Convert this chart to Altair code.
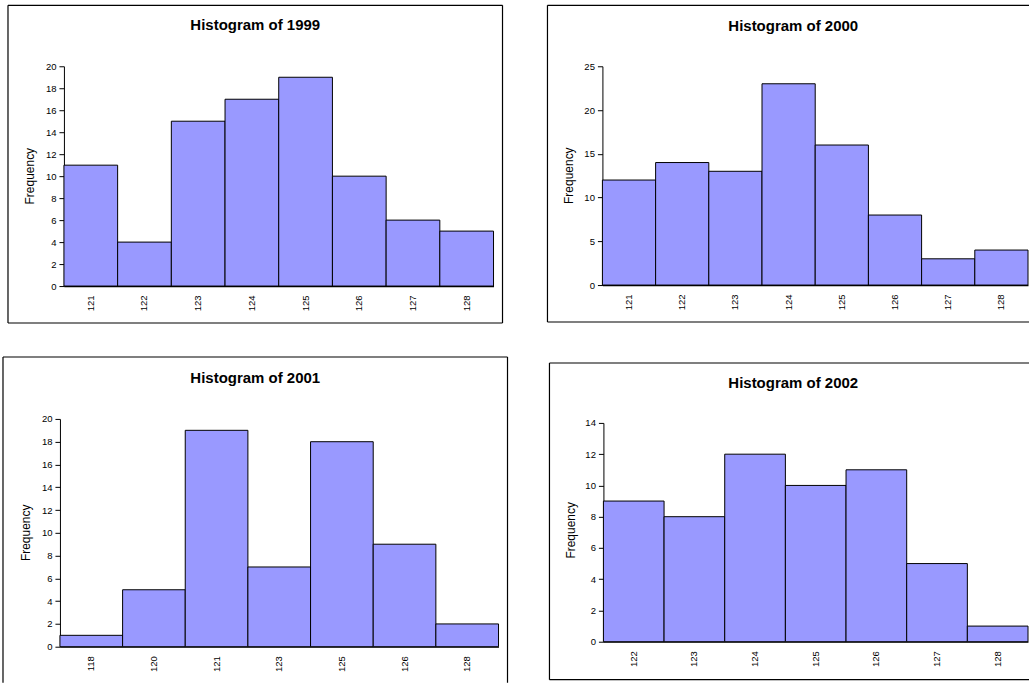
import altair as alt
import pandas as pd

FONT = "Liberation Sans"
BAR_FILL = "#9999FF"

# Frequency tables, one per year
bins_1999 = ["121", "122", "123", "124", "125", "126", "127", "128"]
freq_1999 = [11, 4, 15, 17, 19, 10, 6, 5]
ticks_1999 = [0, 2, 4, 6, 8, 10, 12, 14, 16, 18, 20]

bins_2000 = ["121", "122", "123", "124", "125", "126", "127", "128"]
freq_2000 = [12, 14, 13, 23, 16, 8, 3, 4]
ticks_2000 = [0, 5, 10, 15, 20, 25]

bins_2001 = ["118", "120", "121", "123", "125", "126", "128"]
freq_2001 = [1, 5, 19, 7, 18, 9, 2]
ticks_2001 = [0, 2, 4, 6, 8, 10, 12, 14, 16, 18, 20]

bins_2002 = ["122", "123", "124", "125", "126", "127", "128"]
freq_2002 = [9, 8, 12, 10, 11, 5, 1]
ticks_2002 = [0, 2, 4, 6, 8, 10, 12, 14]


def frame_rule(x1, x2, y1, y2):
    return alt.Chart(pd.DataFrame({"edge": [0]})).mark_rule(
        color="black", strokeWidth=1.2
    ).encode(x=alt.value(x1), x2=alt.value(x2), y=alt.value(y1), y2=alt.value(y2))


def panel(year, bins, freq, ticks, width, height, edges, title_xy, ylab_x,
          x_range=None, y_range=None, y_offset=0):
    df = pd.DataFrame({"bin": bins, "freq": freq})

    xscale = alt.Scale(paddingInner=0, paddingOuter=0)
    if x_range is not None:
        xscale = alt.Scale(paddingInner=0, paddingOuter=0, range=x_range)
    yscale = alt.Scale(domain=[ticks[0], ticks[-1]], nice=False)
    if y_range is not None:
        yscale = alt.Scale(domain=[ticks[0], ticks[-1]], nice=False, range=y_range)

    bars = alt.Chart(df).mark_bar(
        fill=BAR_FILL, stroke="black", strokeWidth=1
    ).encode(
        x=alt.X("bin:N", sort=bins, scale=xscale,
                axis=alt.Axis(title=None, labelAngle=270, ticks=False,
                              labelPadding=9, domainColor="black",
                              domainWidth=1.2, labelColor="black",
                              labelFont=FONT, labelFontSize=9.5)),
        y=alt.Y("freq:Q", scale=yscale,
                axis=alt.Axis(title=None, values=ticks, tickSize=5,
                              labelPadding=3, grid=False, offset=y_offset,
                              domainColor="black", tickColor="black",
                              labelColor="black", labelFont=FONT,
                              labelFontSize=9.5)),
    )

    title = alt.Chart(pd.DataFrame({"t": [0]})).mark_text(
        font=FONT, fontSize=15, fontWeight="bold", color="black",
        align="center", baseline="middle"
    ).encode(text=alt.value(f"Histogram of {year}"),
             x=alt.value(title_xy[0]), y=alt.value(title_xy[1]))

    ylab = alt.Chart(pd.DataFrame({"t": [0]})).mark_text(
        font=FONT, fontSize=12, color="black", angle=270,
        align="center", baseline="middle"
    ).encode(text=alt.value("Frequency"),
             x=alt.value(ylab_x), y=alt.value(height / 2))

    frame = [frame_rule(*e) for e in edges]
    return alt.layer(*frame, bars, title, ylab).properties(width=width, height=height)


p1999 = panel(
    1999, bins_1999, freq_1999, ticks_1999, 430, 220,
    edges=[(-56, 439, -61, -61), (-56, 439, 257, 257),
           (-56, -56, -61, 257), (439, 439, -61, 257)],
    title_xy=(191.5, -41), ylab_x=-34,
)
p2000 = panel(
    2000, bins_2000, freq_2000, ticks_2000, 426, 219,
    edges=[(-55, 427, -61, -61), (-55, 427, 256, 256), (-55, -55, -61, 256)],
    title_xy=(191, -40), ylab_x=-33,
)
p2001 = panel(
    2001, bins_2001, freq_2001, ticks_2001, 435, 228,
    edges=[(-61, 444, -62, -62), (-61, -61, -62, 264), (444, 444, -62, 264)],
    title_xy=(191.5, -41), ylab_x=-38,
    x_range=[-4, 435], y_offset=4,
)
p2002 = panel(
    2002, bins_2002, freq_2002, ticks_2002, 425, 223,
    edges=[(-54, 426, -56, -56), (-54, 426, 261, 261), (-54, -54, -56, 261)],
    title_xy=(190, -36), ylab_x=-32.5,
    y_range=[223, 4],
)

top = alt.hconcat(p1999, p2000, spacing=109, bounds="flush")
bottom = alt.hconcat(p2001, p2002, spacing=105, bounds="flush")

# flush bounds treat the nested rows as zero-height, so the spacing spans
# from the top of one row of plots to the top of the next
chart = alt.vconcat(top, bottom, spacing=353, bounds="flush").properties(
    padding={"left": 2, "top": 4, "right": 0, "bottom": 0},
    background="white",
).configure_view(stroke=None)

chart.save("out.html", embed_options={"renderer": "svg", "actions": False})
